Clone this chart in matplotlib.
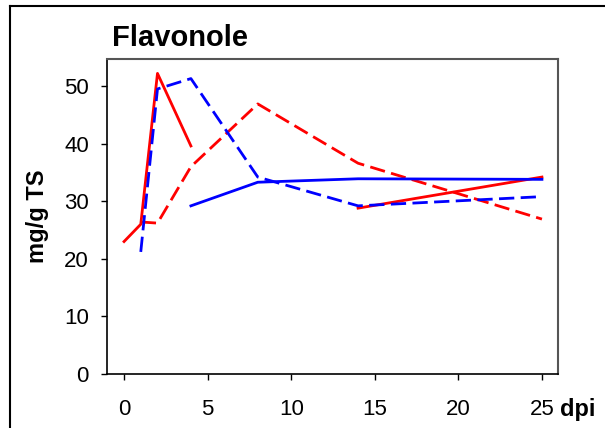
import numpy as np
import matplotlib
matplotlib.use("Agg")
import matplotlib.pyplot as plt
from matplotlib.lines import Line2D

plt.rcParams['font.family'] = ['Liberation Sans', 'DejaVu Sans']

# days post infection
days_red_solid = [0, 1, 2, 4, 8, 14, 25]
red_solid = [23.0, 26.0, 52.2, 39.6, np.nan, 28.8, 34.2]

days_red_dash = [1, 2, 4, 8, 14, 25]
red_dash = [26.4, 26.2, 36.0, 46.9, 36.6, 26.9]

days_blue_dash = [1, 2, 4, 8, 14, 25]
blue_dash = [21.2, 49.5, 51.3, 34.2, 29.2, 30.8]

days_blue_solid = [4, 8, 14, 25]
blue_solid = [29.2, 33.3, 33.9, 33.8]

fig = plt.figure(figsize=(6.05, 4.28), dpi=100)
ax = fig.add_axes([107 / 605, 1 - 374 / 428, (558 - 107) / 605, (374 - 59) / 428])

lw = 2.0
dash = (5.5, 2.3)
ax.plot(days_red_solid, red_solid, color='#ff0000', lw=lw)
ax.plot(days_red_dash, red_dash, color='#ff0000', lw=lw, dashes=dash)
ax.plot(days_blue_dash, blue_dash, color='#0000ff', lw=lw, dashes=dash)
ax.plot(days_blue_solid, blue_solid, color='#0000ff', lw=lw)

ax.set_xlim(-1.02, 25.96)
ax.set_ylim(0, 54.7)
ax.set_xticks([0, 5, 10, 15, 20, 25])
ax.set_yticks([0, 10, 20, 30, 40, 50])
ax.tick_params(direction='out', length=4, width=1, labelsize=16)
ax.tick_params(axis='x', pad=14)
ax.tick_params(axis='y', pad=9)

for side in ('left', 'bottom'):
    ax.spines[side].set_color('black')
    ax.spines[side].set_linewidth(1.2)
for side in ('top', 'right'):
    ax.spines[side].set_color('#555555')
    ax.spines[side].set_linewidth(1.5)

ax.set_ylabel('mg/g TS', fontsize=17, fontweight='bold')
ax.yaxis.set_label_coords(-0.128, 0.5)
ax.text(26.08, -0.133, 'dpi', transform=ax.get_xaxis_transform(),
        fontsize=17, fontweight='bold', ha='left', va='baseline')

fig.text(112 / 605, 1 - 46 / 428, 'Flavonole', fontsize=21, fontweight='bold',
         ha='left', va='baseline')

# outer frame (left and top edges)
fx = 9.5 / 605
fy = 1 - 5.5 / 428
fig.add_artist(Line2D([fx, fx], [0, fy], color='black', lw=1.5))
fig.add_artist(Line2D([fx, 1], [fy, fy], color='black', lw=1.5))

fig.savefig('out.png', dpi=100)
